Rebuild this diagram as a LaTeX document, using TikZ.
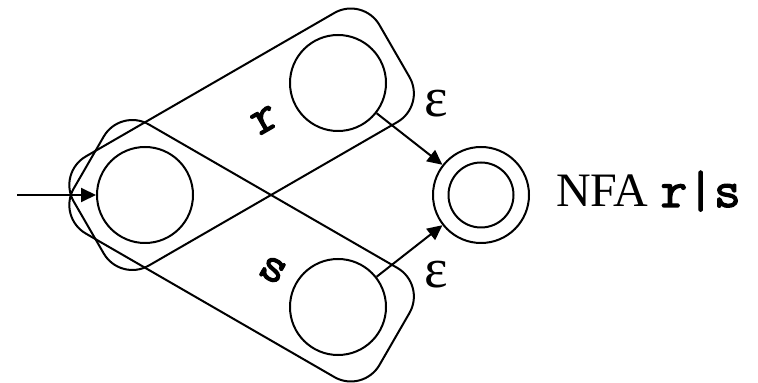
\documentclass[tikz,border=0pt]{standalone}
\usepackage{fontspec}
\setmainfont{Liberation Serif}
\newfontfamily\monob{Latin Modern Mono}[FakeBold=2.4]
\usetikzlibrary{arrows.meta}
\begin{document}
\begin{tikzpicture}[x=1pt,y=1pt,line width=2pt,
  state/.style={draw,circle,minimum size=96pt,inner sep=0pt},
  grp/.style={draw,rectangle,rounded corners=33pt,minimum width=353pt,minimum height=126pt,inner sep=0pt},
  lab/.style={font=\fontsize{48}{52}\selectfont,inner sep=0pt},
  eps/.style={font=\fontsize{56}{60}\selectfont,inner sep=0pt},
  mono/.style={font=\fontsize{50}{54}\selectfont\monob,inner sep=0pt},
  arr/.style={-{Triangle[length=15pt,width=14pt]}}]
\useasboundingbox (0,0) rectangle (758,383);
% groups
\node[grp,rotate=30] (grpr) at (241.6,243.75) {};
\node[grp,rotate=-30] (grps) at (241.6,132.25) {};
% states
\node[state] (start) at (145,188) {};
\node[state] (top) at (338,300) {};
\node[state] (bot) at (338,76) {};
\node[state] (final) at (481,188) {};
\node[draw,circle,minimum size=65pt,inner sep=0pt] (finalin) at (481,188) {};
% labels
\node[mono,rotate=30] (rl) at (265,263) {r};
\node[mono,rotate=-30] (sl) at (273,113) {s};
\node[eps] (e1) at (436,279) {ε};
\node[eps] (e2) at (436,108) {ε};
\node[lab,anchor=base west] (cap) at (555,176) {NFA {\fontsize{52}{56}\selectfont\monob r|s}};
% connectors
\coordinate (in) at (17,188);
\draw[arr] (in) -- (start);
\draw[arr] (top) -- (final);
\draw[arr] (bot) -- (final);
\end{tikzpicture}
\end{document}
